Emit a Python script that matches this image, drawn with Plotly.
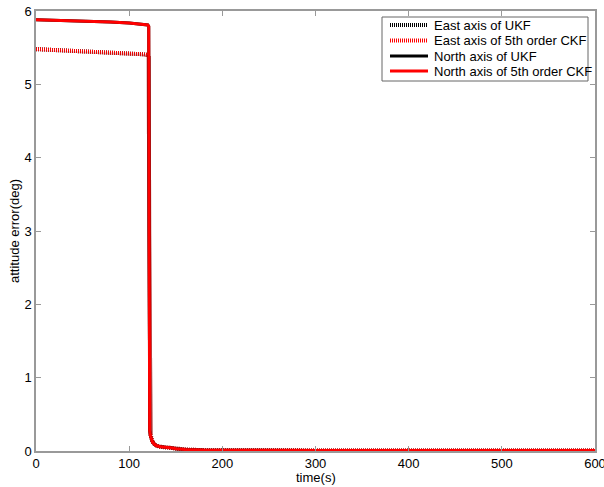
import plotly.graph_objects as go

time = [0, 20, 40, 60, 80, 100, 115, 120, 121, 121.5, 122, 123, 125, 128, 132, 138, 145, 150, 160, 180, 200, 300, 400, 500, 600]
east_ukf = [5.48, 5.47, 5.46, 5.45, 5.44, 5.42, 5.41, 5.40, 5.39, 3.0, 0.30, 0.22, 0.13, 0.08, 0.06, 0.05, 0.045, 0.03, 0.02, 0.012, 0.01, 0.008, 0.007, 0.006, 0.006]
east_ckf = [5.48, 5.47, 5.46, 5.45, 5.44, 5.42, 5.41, 5.40, 5.39, 3.0, 0.30, 0.22, 0.13, 0.08, 0.06, 0.05, 0.045, 0.03, 0.02, 0.012, 0.01, 0.008, 0.007, 0.006, 0.006]
north_ukf = [5.88, 5.875, 5.87, 5.86, 5.85, 5.835, 5.82, 5.81, 5.79, 3.0, 0.28, 0.20, 0.12, 0.08, 0.06, 0.05, 0.045, 0.03, 0.02, 0.012, 0.01, 0.008, 0.007, 0.006, 0.006]
north_ckf = [5.88, 5.875, 5.87, 5.86, 5.85, 5.835, 5.82, 5.81, 5.79, 3.0, 0.28, 0.20, 0.12, 0.08, 0.06, 0.05, 0.045, 0.03, 0.02, 0.012, 0.01, 0.008, 0.007, 0.006, 0.006]

series_names = ["East axis of UKF", "East axis of 5th order CKF", "North axis of UKF", "North axis of 5th order CKF"]
series_data = [east_ukf, east_ckf, north_ukf, north_ckf]
series_styles = [
    dict(color="black", width=4, dash="1px,1px"),
    dict(color="red", width=4, dash="1px,1px"),
    dict(color="black", width=3),
    dict(color="red", width=3),
]

FONT = "Liberation Sans, Arial"
W, H = 604, 487
ML, MR, MT, MB = 36, 9, 11, 36
PW, PH = W - ML - MR, H - MT - MB

def px_x(p):
    return (p - ML) / PW

def px_y(p):
    return (H - MB - p) / PH

fig = go.Figure()
for name, data, style in zip(series_names, series_data, series_styles):
    fig.add_trace(go.Scatter(x=time, y=data, mode="lines", name=name, line=style))

axis_common = dict(showgrid=False, zeroline=False, showline=True, linecolor="#999999",
                   linewidth=1.5, mirror="ticks", ticks="inside", ticklen=5, tickcolor="#999999",
                   automargin=False,
                   tickfont=dict(family=FONT, size=13, color="black"))

fig.update_xaxes(range=[0, 600], tickvals=[0, 100, 200, 300, 400, 500, 600],
                 ticklabeloverflow="allow",
                 **axis_common)
fig.update_yaxes(range=[0, 6], tickvals=[0, 1, 2, 3, 4, 5, 6],
                 ticklabeloverflow="allow",
                 title=dict(text="attitude error(deg)", standoff=2,
                            font=dict(family=FONT, size=13, color="black")),
                 **axis_common)

# manual legend (MATLAB style compact box)
box = dict(x0=382, x1=588, y0=17, y1=81)
shapes = [dict(type="rect", xref="paper", yref="paper",
               x0=px_x(box["x0"]), x1=px_x(box["x1"]),
               y0=px_y(box["y1"]), y1=px_y(box["y0"]),
               line=dict(color="#666666", width=1), fillcolor="white", layer="above")]
annotations = [dict(text="time(s)", xref="paper", yref="paper",
                    x=0.5, y=px_y(478), xanchor="center", yanchor="middle",
                    showarrow=False, font=dict(family=FONT, size=13, color="black"))]
row_y = [25, 40.5, 56, 71]
for name, style, ry in zip(series_names, series_styles, row_y):
    shapes.append(dict(type="line", xref="paper", yref="paper",
                       x0=px_x(390), x1=px_x(428), y0=px_y(ry), y1=px_y(ry),
                       line=style, layer="above"))
    annotations.append(dict(text=name, xref="paper", yref="paper",
                            x=px_x(432), y=px_y(ry), xanchor="left", yanchor="middle",
                            showarrow=False, font=dict(family=FONT, size=13, color="black")))

fig.update_layout(
    width=W, height=H,
    margin=dict(l=ML, r=MR, t=MT, b=MB),
    plot_bgcolor="white", paper_bgcolor="white",
    showlegend=False,
    shapes=shapes,
    annotations=annotations,
)

fig.write_html("out.html")
